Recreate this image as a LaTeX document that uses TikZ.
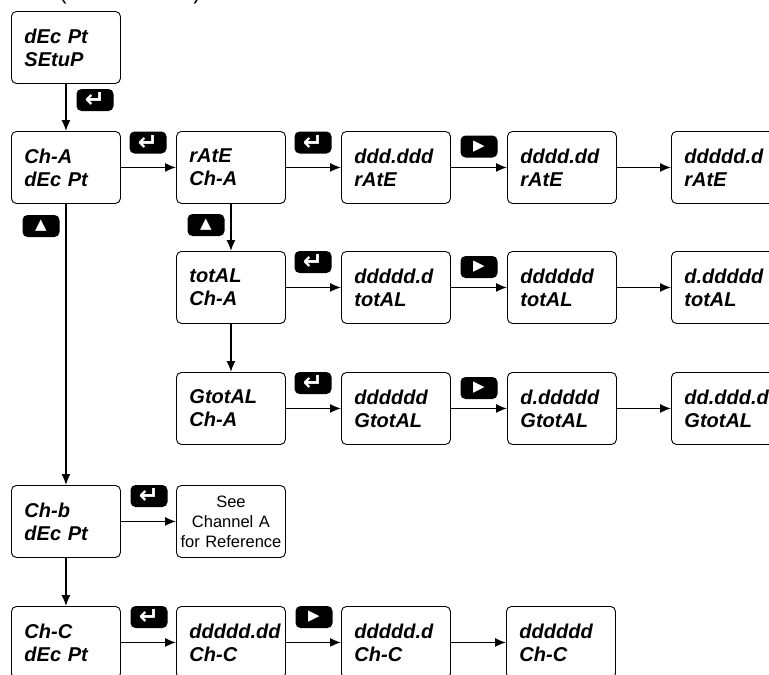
\documentclass[tikz,border=0pt]{standalone}
\usepackage{fontspec}
\setmainfont{Liberation Sans}
\newfontfamily\symfont{DejaVu Sans}
\usetikzlibrary{arrows.meta}
\newcommand\lcdtext{\fontsize{20}{23}\selectfont\bfseries\itshape}

\begin{document}
\begin{tikzpicture}[x=1pt,y=-1pt,
  disp/.style={draw,line width=.9pt,rounded corners=5pt,anchor=north west,
    minimum width=109pt,minimum height=72pt,text width=83pt,
    inner xsep=13pt,inner ysep=0pt,align=left,font=\lcdtext},
  note/.style={disp,text width=107pt,inner xsep=1pt,align=center,
    font=\fontsize{16.5}{20}\selectfont},
  key/.style={fill=black,text=white,rounded corners=5pt,minimum width=37pt,
    minimum height=22pt,inner sep=0pt},
  enterkey/.style={key,font=\symfont\bfseries\fontsize{24}{24}\selectfont},
  arrowkey/.style={key,font=\symfont\fontsize{15}{15}\selectfont},
  conn/.style={-{Latex[length=11pt,width=9pt]},line width=1.4pt}]
  \useasboundingbox (0,0) rectangle (769,675);

  % title, cut off at the top
  \node[anchor=base,inner sep=0pt,font=\fontsize{22}{22}\selectfont] (lpar) at (63,-1) {(};
  \node[anchor=base,inner sep=0pt,font=\fontsize{22}{22}\selectfont] (rpar) at (197,-1) {)};

  % displays
  \node[disp] (setup) at (11,11) {dEc Pt\\SEtuP};
  \node[disp] (chA) at (11,131) {Ch-A\\dEc Pt};
  \node[disp] (rate) at (176,131) {rAtE\\Ch-A};
  \node[disp] (rate1) at (341,131) {ddd.ddd\\rAtE};
  \node[disp] (rate2) at (507,131) {dddd.dd\\rAtE};
  \node[disp] (rate3) at (671,131) {ddddd.d\\rAtE};

  \node[disp] (tot) at (176,251) {totAL\\Ch-A};
  \node[disp] (tot1) at (341,251) {ddddd.d\\totAL};
  \node[disp] (tot2) at (507,251) {dddddd\\totAL};
  \node[disp] (tot3) at (671,251) {d.ddddd\\totAL};

  \node[disp] (gtot) at (176,372) {GtotAL\\Ch-A};
  \node[disp] (gtot1) at (341,372) {dddddd\\GtotAL};
  \node[disp] (gtot2) at (507,372) {d.ddddd\\GtotAL};
  \node[disp] (gtot3) at (671,372) {dd.ddd.d\\GtotAL};

  \node[disp] (chB) at (11,485) {Ch-b\\dEc Pt};
  \node[note] (see) at (176,485) {See\\Channel A\\for Reference};

  \node[disp] (chC) at (11,606) {Ch-C\\dEc Pt};
  \node[disp] (chC1) at (176,606) {ddddd.dd\\Ch-C};
  \node[disp] (chC2) at (341,606) {ddddd.d\\Ch-C};
  \node[disp] (chC3) at (506,606) {dddddd\\Ch-C};

  % connectors
  \draw[conn] (setup) -- (chA);
  \draw[conn] (chA) -- (rate);
  \draw[conn] (chA) -- (chB);
  \draw[conn] (rate) -- (rate1);
  \draw[conn] (rate1) -- (rate2);
  \draw[conn] (rate2) -- (rate3);
  \draw[conn] (rate) -- (tot);
  \draw[conn] (tot) -- (tot1);
  \draw[conn] (tot1) -- (tot2);
  \draw[conn] (tot2) -- (tot3);
  \draw[conn] (tot) -- (gtot);
  \draw[conn] (gtot) -- (gtot1);
  \draw[conn] (gtot1) -- (gtot2);
  \draw[conn] (gtot2) -- (gtot3);
  \draw[conn] (chB) -- (see);
  \draw[conn] (chB) -- (chC);
  \draw[conn] (chC) -- (chC1);
  \draw[conn] (chC1) -- (chC2);
  \draw[conn] (chC2) -- (chC3);

  % keys
  \node[enterkey] (kSetup) at (95,100) {↵};
  \node[enterkey] (kChA) at (148,142.5) {↵};
  \node[arrowkey] (kUpA) at (41,226) {▲};
  \node[enterkey] (kRate) at (313,142.5) {↵};
  \node[arrowkey] (kRate1) at (479,146.5) {▶};
  \node[arrowkey] (kUpRate) at (206,225) {▲};
  \node[enterkey] (kTot) at (313,262) {↵};
  \node[arrowkey] (kTot1) at (479,267) {▶};
  \node[enterkey] (kGtot) at (313,383) {↵};
  \node[arrowkey] (kGtot1) at (479,388) {▶};
  \node[enterkey] (kChB) at (149,496) {↵};
  \node[enterkey] (kChC) at (149,617) {↵};
  \node[arrowkey] (kChC1) at (314,617) {▶};
\end{tikzpicture}
\end{document}
